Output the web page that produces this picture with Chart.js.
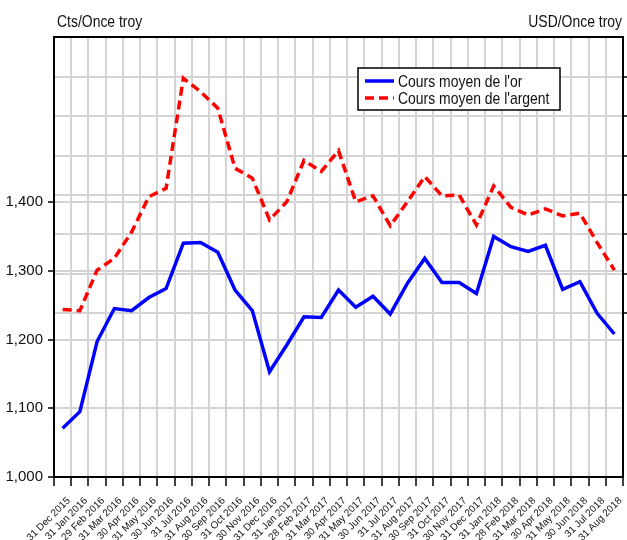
<!DOCTYPE html>
<html>
<head>
<meta charset="utf-8">
<script src="https://cdn.jsdelivr.net/npm/chart.js@4.4.0/dist/chart.umd.min.js"></script>
<style>
  html, body { margin: 0; padding: 0; background: #fff; }
</style>
</head>
<body>
<canvas id="chart" width="627" height="540"></canvas>
<script>
// libellés des mois (fin de mois)
const months = [
  '31 Dec 2015', '31 Jan 2016', '29 Feb 2016', '31 Mar 2016', '30 Apr 2016', '31 May 2016',
  '30 Jun 2016', '31 Jul 2016', '31 Aug 2016', '30 Sep 2016', '31 Oct 2016', '30 Nov 2016',
  '31 Dec 2016', '31 Jan 2017', '28 Feb 2017', '31 Mar 2017', '30 Apr 2017', '31 May 2017',
  '30 Jun 2017', '31 Jul 2017', '31 Aug 2017', '30 Sep 2017', '31 Oct 2017', '30 Nov 2017',
  '31 Dec 2017', '31 Jan 2018', '28 Feb 2018', '31 Mar 2018', '30 Apr 2018', '31 May 2018',
  '30 Jun 2018', '31 Jul 2018', '31 Aug 2018'
];

// or, USD/once (axe de gauche)
const goldPrice = [
  1071, 1095, 1197, 1245, 1242, 1261, 1274, 1340, 1341, 1327, 1272, 1242,
  1153, 1192, 1233, 1232, 1272, 1247, 1263, 1237, 1282, 1318, 1283, 1283,
  1267, 1350, 1335, 1328, 1337, 1273, 1284, 1238, 1208
];

// argent, cts/once (axe de droite)
const silverPrice = [
  1409, 1406, 1509, 1539, 1606, 1696, 1717, 1997, 1963, 1921, 1768, 1743,
  1637, 1683, 1788, 1760, 1813, 1683, 1698, 1622, 1683, 1747, 1698, 1700,
  1624, 1723, 1669, 1649, 1665, 1647, 1654, 1579, 1509
];

const leftTicks = [1000, 1100, 1200, 1300, 1400];
const rightTicks = [1400, 1500, 1600, 1700, 1800, 1900, 2000];

const regular = "'Liberation Sans', Arial, sans-serif";
const gridColor = '#d4d4d4';

// texte condensé (pas de police "narrow" installée)
function narrowText(ctx, text, x, y, align) {
  const k = 0.82;
  ctx.save();
  ctx.translate(x, y);
  ctx.scale(k, 1);
  ctx.textAlign = align;
  ctx.fillText(text, 0, 0);
  ctx.restore();
}

// cadre, titres d'axes et légende
const decorPlugin = {
  id: 'decor',
  afterDatasetsDraw(chart) {
    const ctx = chart.ctx;
    const area = chart.chartArea;
    ctx.save();
    // bord du haut et de droite
    ctx.strokeStyle = '#000';
    ctx.lineWidth = 2;
    ctx.beginPath();
    ctx.moveTo(area.left, area.top);
    ctx.lineTo(area.right, area.top);
    ctx.lineTo(area.right, area.bottom);
    ctx.stroke();

    // titres
    ctx.fillStyle = '#111';
    ctx.font = '17px ' + regular;
    ctx.textBaseline = 'alphabetic';
    narrowText(ctx, 'Cts/Once troy', 57, 27, 'left');
    narrowText(ctx, 'USD/Once troy', 622, 27, 'right');

    // légende
    const lx = 358, ly = 68, lw = 202, lh = 42;
    ctx.fillStyle = '#fff';
    ctx.fillRect(lx, ly, lw, lh);
    ctx.strokeStyle = '#000';
    ctx.lineWidth = 1.5;
    ctx.strokeRect(lx, ly, lw, lh);

    const rows = [
      { ds: chart.data.datasets[0], y: 81 },
      { ds: chart.data.datasets[1], y: 98 }
    ];
    rows.forEach(r => {
      ctx.strokeStyle = r.ds.borderColor;
      ctx.lineWidth = 3.5;
      ctx.setLineDash(r.ds.borderDash || []);
      ctx.beginPath();
      ctx.moveTo(365, r.y);
      ctx.lineTo(394, r.y);
      ctx.stroke();
      ctx.setLineDash([]);
      ctx.fillStyle = '#111';
      ctx.font = '17px ' + regular;
      ctx.textBaseline = 'middle';
      narrowText(ctx, r.ds.label, 398, r.y + 1, 'left');
    });
    ctx.restore();
  }
};

new Chart(document.getElementById('chart').getContext('2d'), {
  type: 'line',
  data: {
    labels: months,
    datasets: [
      {
        label: "Cours moyen de l'or",
        data: goldPrice,
        yAxisID: 'y',
        borderColor: '#0000ff',
        borderWidth: 3.5,
        pointRadius: 0,
        tension: 0,
        fill: false
      },
      {
        label: "Cours moyen de l'argent",
        data: silverPrice,
        yAxisID: 'y2',
        borderColor: '#ff0000',
        borderWidth: 3.5,
        borderDash: [9, 5],
        pointRadius: 0,
        tension: 0,
        fill: false
      }
    ]
  },
  options: {
    responsive: false,
    devicePixelRatio: 1,
    animation: false,
    layout: { padding: { top: 37, left: 0, right: 0, bottom: 0 } },
    plugins: {
      legend: { display: false },
      tooltip: { enabled: false }
    },
    scales: {
      x: {
        offset: true,
        grid: {
          offset: true,
          color: gridColor,
          lineWidth: 2,
          tickLength: 9,
          tickColor: '#000',
          tickWidth: 1.5
        },
        border: { color: '#000', width: 2 },
        ticks: {
          autoSkip: false,
          maxRotation: 45,
          minRotation: 45,
          padding: 9,
          labelOffset: 6,
          color: '#111',
          font: { family: regular, size: 10 }
        },
        afterFit(scale) {
          scale.height = 63;
          scale.paddingLeft = 0;
          scale.paddingRight = 0;
        }
      },
      y: {
        position: 'left',
        min: 1000,
        max: 1640,
        afterBuildTicks(scale) { scale.ticks = leftTicks.map(v => ({ value: v })); },
        afterFit(scale) { scale.width = 54; },
        grid: {
          color: gridColor,
          lineWidth: 2,
          tickLength: 6,
          tickColor: '#000',
          tickWidth: 1.5
        },
        border: { color: '#000', width: 2 },
        ticks: {
          padding: 5,
          color: '#111',
          font: { family: regular, size: 15 },
          callback: v => v.toLocaleString('en-US')
        }
      },
      y2: {
        position: 'right',
        min: 983,
        max: 2102,
        afterBuildTicks(scale) { scale.ticks = rightTicks.map(v => ({ value: v })); },
        afterFit(scale) { scale.width = 4; },
        grid: {
          color: gridColor,
          lineWidth: 2,
          tickLength: 4,
          tickColor: '#000',
          tickWidth: 1.5
        },
        border: { color: '#000', width: 2 },
        ticks: { display: false }
      }
    }
  },
  plugins: [decorPlugin]
});
</script>
</body>
</html>
